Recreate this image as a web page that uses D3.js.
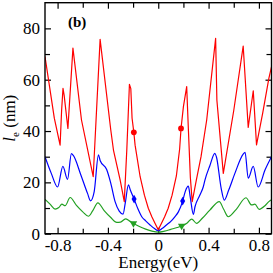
<!DOCTYPE html>
<html>
<head>
<meta charset="utf-8">
<script src="https://cdn.jsdelivr.net/npm/d3@7"></script>
<style>
  body { margin: 0; background: #fff; }
</style>
</head>
<body>
<svg id="chart" width="273" height="273"></svg>
<script>
// energy (eV) and mean free path l_e (nm)
const redE = [-0.9, -0.826, -0.78, -0.768, -0.757, -0.748, -0.718, -0.678, -0.61, -0.517, -0.462, -0.377, -0.356, -0.303, -0.27, -0.25, -0.229, -0.218, -0.208, -0.194, -0.184, -0.144, -0.11, -0.079, -0.05, -0.025, 0,
  0.025, 0.05, 0.079, 0.11, 0.144, 0.17, 0.181, 0.2, 0.226, 0.24, 0.255, 0.27, 0.303, 0.34, 0.385, 0.456, 0.466, 0.517, 0.6, 0.675, 0.715, 0.755, 0.781, 0.83, 0.879, 0.9];
const redL = [69, 45, 34.5, 48, 56.6, 54, 41, 72.3, 44.3, 22.2, 75.7, 40.3, 32.6, 21, 12.5, 32.6, 58.2, 56.5, 45, 39.5, 34.5, 22.2, 15, 9.9, 6.5, 4, 1.5,
  4, 6.5, 9.9, 15, 22.5, 33, 41, 49.5, 57.3, 40, 22, 12.5, 21, 30, 44.3, 76.1, 52, 23.5, 48, 73.1, 41.4, 55.7, 34.6, 47, 60.5, 65];

const blueE = [-0.9, -0.85, -0.8, -0.758, -0.721, -0.69, -0.675, -0.615, -0.562, -0.538, -0.509, -0.475, -0.462, -0.41, -0.377, -0.343, -0.31, -0.28, -0.262, -0.237, -0.222, -0.192, -0.16, -0.131, -0.1, -0.065, -0.03, 0,
  0.03, 0.065, 0.1, 0.13, 0.16, 0.194, 0.215, 0.239, 0.255, 0.279, 0.292, 0.33, 0.358, 0.371, 0.41, 0.45, 0.462, 0.5, 0.525, 0.56, 0.609, 0.675, 0.69, 0.715, 0.755, 0.794, 0.85, 0.9];
const blueL = [30, 23.5, 18.2, 26.2, 21.2, 31.2, 30.5, 22.9, 15.7, 12.8, 16.4, 30.7, 28.5, 25, 19.6, 12.5, 8.8, 7.6, 12, 19, 17, 13.5, 9.5, 6.6, 5, 3.4, 2, 1.2,
  2, 3.4, 4.8, 6.5, 8.5, 12.7, 16.5, 18.5, 14, 7.5, 10.5, 15, 18.3, 20.9, 26.5, 31.3, 30, 17.7, 13.1, 17, 23.5, 31, 31.7, 21.6, 26.2, 18.2, 25, 30];

const greenE = [-0.9, -0.86, -0.82, -0.79, -0.766, -0.74, -0.7, -0.65, -0.6, -0.555, -0.52, -0.48, -0.43, -0.377, -0.33, -0.3, -0.26, -0.23, -0.197, -0.15, -0.1, -0.05, 0,
  0.05, 0.1, 0.15, 0.186, 0.23, 0.266, 0.305, 0.35, 0.41, 0.485, 0.52, 0.556, 0.62, 0.697, 0.742, 0.768, 0.802, 0.85, 0.879, 0.9];
const greenL = [13.4, 11.5, 9.6, 10.2, 11.5, 10.9, 14.1, 11, 8.5, 6.8, 9, 12, 9, 6.3, 4.4, 4.5, 5.8, 5, 4, 2.8, 1.8, 1, 0.6,
  1, 1.7, 2.4, 3, 4.2, 5.7, 4, 6, 9.2, 12.5, 9.5, 6.6, 9.5, 14, 11.2, 11.5, 9.5, 11, 12.5, 13.2];

// marked points
const redMarkE = [-0.194, 0.181], redMarkL = [39.5, 41];
const blueMarkE = [-0.192, 0.194], blueMarkL = [13.5, 12.7];
const greenMarkE = [-0.197, 0.186], greenMarkL = [4.0, 3.0];

const xMajor = [-0.8, -0.4, 0, 0.4, 0.8];
const xMinor = [-0.6, -0.2, 0.2, 0.6];
const yMajor = [0, 20, 40, 60, 80];
const yMinor = [10, 30, 50, 70];

const FONT = "'Liberation Serif', 'Times New Roman', 'DejaVu Serif', serif";
const margin = {left: 45, right: 1.5, top: 2.7, bottom: 39.3};
const W = 273, H = 273;

const svg = d3.select("#chart");

const x = d3.scaleLinear().domain([-0.9, 0.9]).range([margin.left, W - margin.right]);
const y = d3.scaleLinear().domain([0, 90]).range([H - margin.bottom, margin.top]);

const fmtX = d => d === 0 ? "0" : d3.format(".1f")(d).replace("−", "-");

// axes: ticks point inward
function addAxis(axisFn, scale, vals, size, transform, fmt) {
    const g = svg.append("g")
        .attr("transform", transform)
        .call(axisFn(scale).tickValues(vals).tickSize(size).tickFormat(fmt))
        .attr("font-family", FONT);
    g.select(".domain").remove();
    g.selectAll(".tick line").attr("stroke", "#000").attr("stroke-width", 1.2);
    g.selectAll(".tick text").attr("fill", "#000").style("font-family", FONT).style("font-size", "17px");
    return g;
}

const bottomY = H - margin.bottom, topY = margin.top;
const leftX = margin.left, rightX = W - margin.right;

const xb = addAxis(d3.axisBottom, x, xMajor, -6, `translate(0,${bottomY})`, fmtX);
xb.selectAll(".tick text").attr("y", 5);
addAxis(d3.axisBottom, x, xMinor, -5, `translate(0,${bottomY})`, "");
addAxis(d3.axisTop, x, xMajor, -6, `translate(0,${topY})`, "");
addAxis(d3.axisTop, x, xMinor, -5, `translate(0,${topY})`, "");

const yl = addAxis(d3.axisLeft, y, yMajor, -6, `translate(${leftX},0)`, d3.format("d"));
yl.selectAll(".tick text").attr("x", -5);
addAxis(d3.axisLeft, y, yMinor, -5, `translate(${leftX},0)`, "");
addAxis(d3.axisRight, y, yMajor, -6, `translate(${rightX},0)`, "");
addAxis(d3.axisRight, y, yMinor, -5, `translate(${rightX},0)`, "");

// curves
svg.append("clipPath").attr("id", "plotClip")
    .append("rect")
    .attr("x", leftX).attr("y", topY)
    .attr("width", rightX - leftX).attr("height", bottomY - topY);

const lineSharp = d3.line().x(d => x(d[0])).y(d => y(d[1]));
const lineSmooth = d3.line().x(d => x(d[0])).y(d => y(d[1])).curve(d3.curveMonotoneX);

const series = [
    {E: greenE, L: greenL, color: "#22a022", gen: lineSmooth},
    {E: blueE, L: blueL, color: "#0000ff", gen: lineSmooth},
    {E: redE, L: redL, color: "#ff0000", gen: lineSharp}
];

svg.append("g").attr("clip-path", "url(#plotClip)")
    .selectAll("path")
    .data(series)
    .join("path")
    .attr("d", s => s.gen(s.E.map((e, i) => [e, s.L[i]])))
    .attr("fill", "none")
    .attr("stroke", s => s.color)
    .attr("stroke-width", 1.2)
    .attr("stroke-linejoin", "round");

// markers
const marks = [
    {E: redMarkE, L: redMarkL, color: "#ff0000", sym: d3.symbolCircle, size: 26, rot: 0},
    {E: blueMarkE, L: blueMarkL, color: "#0000ff", sym: d3.symbolDiamond, size: 22, rot: 0},
    {E: greenMarkE, L: greenMarkL, color: "#22a022", sym: d3.symbolTriangle, size: 24, rot: 180}
];

marks.forEach(m => {
    svg.append("g").selectAll("path")
        .data(m.E.map((e, i) => [e, m.L[i]]))
        .join("path")
        .attr("d", d3.symbol().type(m.sym).size(m.size))
        .attr("transform", d => `translate(${x(d[0])},${y(d[1])}) rotate(${m.rot})`)
        .attr("fill", m.color);
});

// frame
svg.append("rect")
    .attr("x", leftX).attr("y", topY)
    .attr("width", rightX - leftX).attr("height", bottomY - topY)
    .attr("fill", "none").attr("stroke", "#000").attr("stroke-width", 1.4);

// labels
svg.append("text")
    .attr("x", 68).attr("y", 27)
    .style("font-family", FONT)
    .style("font-size", "15px").style("font-weight", "bold")
    .text("(b)");

svg.append("text")
    .attr("x", (leftX + rightX) / 2).attr("y", 268)
    .attr("text-anchor", "middle")
    .style("font-family", FONT)
    .style("font-size", "17px")
    .text("Energy(eV)");

const ylab = svg.append("text")
    .attr("transform", `translate(15,${(topY + bottomY) / 2}) rotate(-90)`)
    .attr("text-anchor", "middle")
    .style("font-family", FONT)
    .style("font-size", "17px");
ylab.append("tspan").style("font-style", "italic").text("l");
ylab.append("tspan").attr("dy", 4).style("font-size", "11px").text("e");
ylab.append("tspan").attr("dy", -4).text(" (nm)");
</script>
</body>
</html>
